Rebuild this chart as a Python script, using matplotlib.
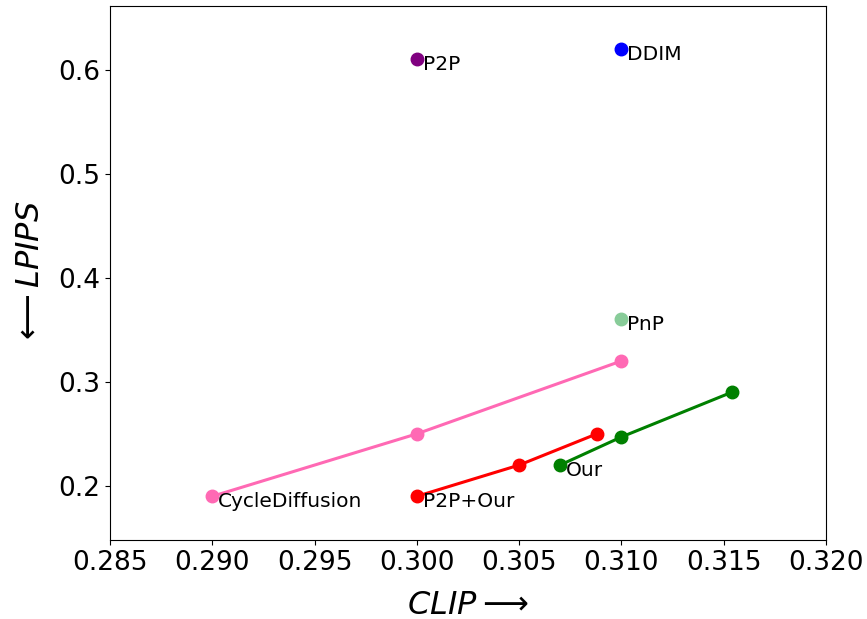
import matplotlib
matplotlib.use("Agg")
import matplotlib.pyplot as plt

# single methods
single_names = ["P2P", "DDIM", "PnP"]
single_clip = [0.300, 0.310, 0.310]
single_lpips = [0.61, 0.62, 0.36]
single_colors = ["purple", "blue", "#88cc99"]

# method curves
cycle_clip = [0.290, 0.300, 0.310]
cycle_lpips = [0.19, 0.25, 0.32]

p2p_our_clip = [0.300, 0.305, 0.3088]
p2p_our_lpips = [0.19, 0.22, 0.25]

our_clip = [0.307, 0.310, 0.3154]
our_lpips = [0.22, 0.247, 0.29]

fig = plt.figure(figsize=(8.67, 6.19), dpi=100)
ax = fig.add_axes([0.1269, 0.1276, 0.8258, 0.8627])


def label(x, y, s):
    ax.annotate(s, (x, y), xytext=(6, -11), textcoords="offset pixels",
                fontsize=14.5, ha="left", va="baseline")


# curves
ax.plot(cycle_clip, cycle_lpips, color="hotpink", marker="o", markersize=9, linewidth=2.2)
ax.plot(p2p_our_clip, p2p_our_lpips, color="red", marker="o", markersize=9, linewidth=2.2)
ax.plot(our_clip, our_lpips, color="green", marker="o", markersize=9, linewidth=2.2)

label(cycle_clip[0], cycle_lpips[0], "CycleDiffusion")
label(p2p_our_clip[0], p2p_our_lpips[0], "P2P+Our")
label(our_clip[0], our_lpips[0], "Our")

for name, x, y, c in zip(single_names, single_clip, single_lpips, single_colors):
    ax.plot(x, y, "o", color=c, markersize=9)
    label(x, y, name)

ax.set_xlim(0.285, 0.320)
ax.set_ylim(0.148, 0.661)
ax.set_xticks([0.285, 0.290, 0.295, 0.300, 0.305, 0.310, 0.315, 0.320])
ax.set_yticks([0.2, 0.3, 0.4, 0.5, 0.6])
ax.tick_params(labelsize=19)

ax.set_xlabel(r"$CLIP \longrightarrow$", fontsize=23, labelpad=10)
ax.set_ylabel(r"$\longleftarrow LPIPS$", fontsize=23, labelpad=9)

fig.savefig("out.png", dpi=100)
